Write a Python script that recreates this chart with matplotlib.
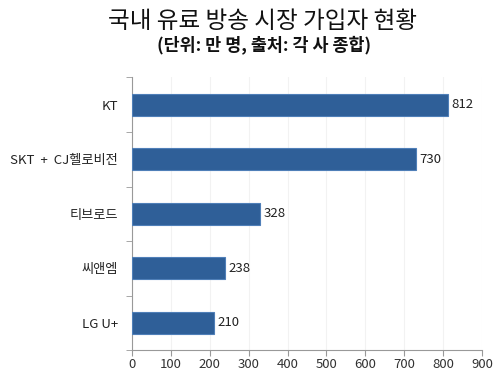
import numpy as np
import matplotlib.pyplot as plt

plt.rcParams['font.family'] = ['Noto Sans CJK KR', 'DejaVu Sans']

companies = ["KT", "SKT  +  CJ헬로비전", "티브로드", "씨앤엠", "LG U+"]
subscribers = [812, 730, 328, 238, 210]
xticks = [0, 100, 200, 300, 400, 500, 600, 700, 800, 900]

fig = plt.figure(figsize=(5, 3.78), dpi=100)
ax = fig.add_axes([0.264, 0.074, 0.7, 0.721])

y = np.arange(len(companies))
ax.barh(y, subscribers, height=0.4, color="#2f5f98", edgecolor="#4f7fb8", linewidth=0.8, zorder=3)
for yi, v in zip(y, subscribers):
    ax.text(v + 10, yi, str(v), va="center", ha="left", fontsize=9.5, color="#222222")

ax.set_ylim(len(companies) - 0.5, -0.5)
ax.set_xlim(0, 900)
ax.set_xticks(xticks)
ax.set_xticklabels([str(t) for t in xticks], fontsize=9.5, color="#333333")
ax.set_yticks(y)
ax.set_yticklabels(companies, fontsize=9.5, color="#222222")
ax.set_yticks(np.arange(len(companies) + 1) - 0.5, minor=True)
ax.tick_params(axis="y", which="major", length=0, pad=10)
ax.tick_params(axis="y", which="minor", length=4, color="#999999", direction="out")
ax.tick_params(axis="x", length=4, color="#999999", direction="out", pad=2)
ax.grid(axis="x", color="#f2f2f2", linewidth=0.8, zorder=0)

for s in ["top", "right"]:
    ax.spines[s].set_visible(False)
for s in ["left", "bottom"]:
    ax.spines[s].set_color("#999999")

fig.text(0.525, 0.942, "국내 유료 방송 시장 가입자 현황", ha="center", va="center", fontsize=17, color="#111111")
fig.text(0.528, 0.881, "(단위: 만 명, 출처: 각 사 종합)", ha="center", va="center", fontsize=12.5, fontweight="bold", color="#111111")

fig.savefig("out.png", dpi=100)
